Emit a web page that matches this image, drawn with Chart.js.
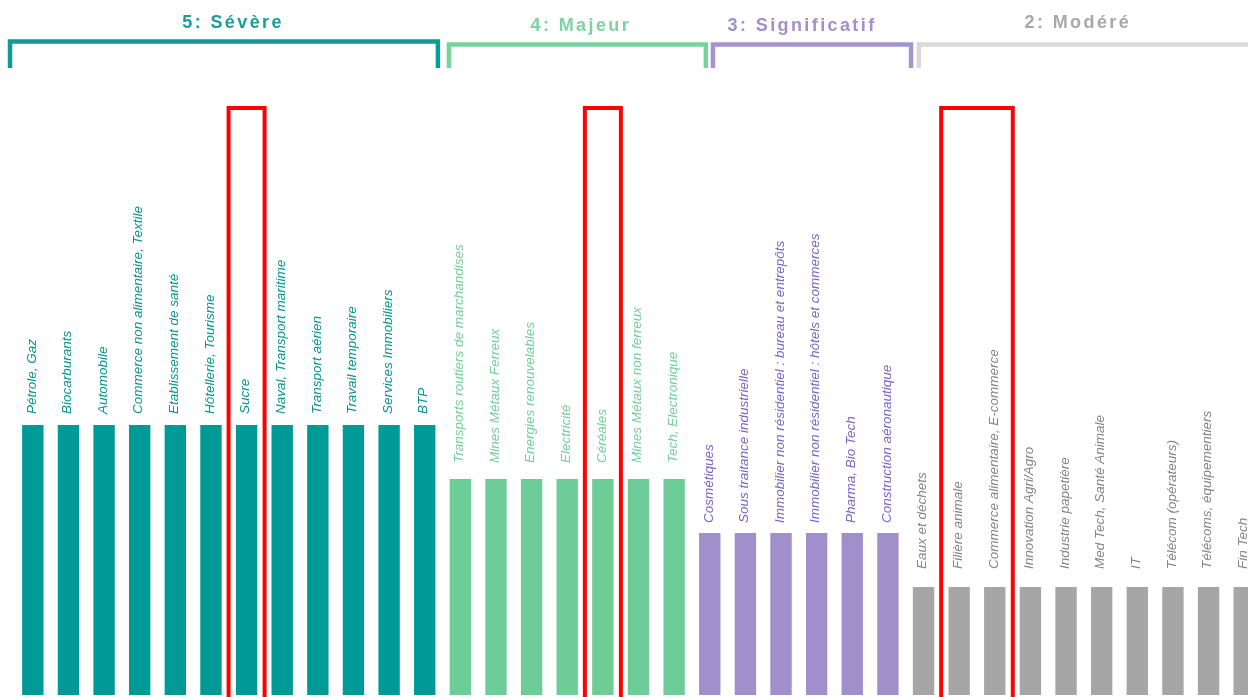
<!DOCTYPE html>
<html lang="fr">
<head>
<meta charset="utf-8">
<title>Secteurs par niveau de risque</title>
<script src="https://cdn.jsdelivr.net/npm/chart.js@4.4.1/dist/chart.umd.min.js"></script>
<style>
  html, body { margin: 0; padding: 0; background: #fff; overflow: hidden; }
  #wrap { width: 1262px; height: 697px; }
</style>
</head>
<body>
<div id="wrap"><canvas id="riskChart" width="1262" height="697"></canvas></div>
<script>
// ========== DATA ==========

const sectors = [
  'Pétrole, Gaz', 'Biocarburants', 'Automobile', 'Commerce non alimentaire, Textile',
  'Etablissement de santé', 'Hôtellerie, Tourisme', 'Sucre', 'Naval, Transport maritime',
  'Transport aérien', 'Travail temporaire', 'Services Immobiliers', 'BTP',
  'Transports routiers de marchandises', 'Mines Métaux Ferreux', 'Energies renouvelables',
  'Electricité', 'Céréales', 'Mines Métaux non ferreux', 'Tech, Electronique',
  'Cosmétiques', 'Sous traitance industrielle',
  'Immobilier non résidentiel : bureau et entrepôts',
  'Immobilier non résidentiel : hôtels et commerces',
  'Pharma, Bio Tech', 'Construction aéronautique',
  'Eaux et déchets', 'Filière animale', 'Commerce alimentaire, E-commerce',
  'Innovation Agri/Agro', 'Industrie papetière', 'Med Tech, Santé Animale', 'IT',
  'Télécom (opérateurs)', 'Télécoms, équipementiers', 'Fin Tech'
];

const severity = [
  5, 5, 5, 5, 5, 5, 5, 5, 5, 5, 5, 5,
  4, 4, 4, 4, 4, 4, 4,
  3, 3, 3, 3, 3, 3,
  2, 2, 2, 2, 2, 2, 2, 2, 2, 2
];

const levels = [5, 4, 3, 2];
const levelNames = ['5: Sévère', '4: Majeur', '3: Significatif', '2: Modéré'];

// sectors boxed in red
const highlighted = [
  ['Sucre'],
  ['Céréales'],
  ['Filière animale', 'Commerce alimentaire, E-commerce']
];

// ========== STYLE ==========

const barColors   = { 5: '#009A96', 4: '#6DCC98', 3: '#A08FCA', 2: '#A6A6A6' };
const labelColors = { 5: '#0A9591', 4: '#72CF9C', 3: '#7A66C6', 2: '#858585' };
const headColors  = { 5: '#1B9E9A', 4: '#7ED3A2', 3: '#A18FCE', 2: '#A8A8A8' };
const lineColors  = { 5: '#0E9C98', 4: '#74D39E', 3: '#A494D0', 2: '#D9D9D9' };
const labelGap    = { 5: 11, 4: 16, 3: 10, 2: 18 };

// bracket spans and header centre in category units (0 = left edge of first bar slot)
const brackets = {
  5: { from: -0.14, to: 11.87, head: 6.12, top: 41.5, textY: 23 },
  4: { from: 12.18, to: 19.39, head: 15.88, top: 44.5, textY: 26 },
  3: { from: 19.59, to: 25.15, head: 22.09, top: 44.5, textY: 26 },
  2: { from: 25.37, to: 36.00, head: 29.83, top: 44.5, textY: 23 }
};

// ========== PLUGINS ==========

const catPx = (scale, v) => {
  const step = scale.getPixelForValue(1) - scale.getPixelForValue(0);
  return scale.getPixelForValue(0) - step / 2 + v * step;
};

const sectorLabels = {
  id: 'sectorLabels',
  afterDatasetsDraw(chart) {
    const ctx = chart.ctx;
    const meta = chart.getDatasetMeta(0);
    ctx.save();
    ctx.font = 'italic 13.5px "Liberation Sans", Arial, sans-serif';
    ctx.textAlign = 'left';
    ctx.textBaseline = 'middle';
    meta.data.forEach((bar, i) => {
      const lvl = severity[i];
      ctx.save();
      ctx.translate(bar.x - 1, bar.y - labelGap[lvl]);
      ctx.rotate(-Math.PI / 2);
      ctx.fillStyle = labelColors[lvl];
      ctx.fillText(sectors[i], 0, 0);
      ctx.restore();
    });
    ctx.restore();
  }
};

const groupBrackets = {
  id: 'groupBrackets',
  afterDraw(chart) {
    const ctx = chart.ctx;
    const xs = chart.scales.x;
    ctx.save();
    levels.forEach((lvl, k) => {
      const b = brackets[lvl];
      const x0 = catPx(xs, b.from);
      const x1 = catPx(xs, b.to);
      ctx.strokeStyle = lineColors[lvl];
      ctx.lineWidth = 4.5;
      ctx.lineJoin = 'miter';
      ctx.beginPath();
      ctx.moveTo(x0, 68);
      ctx.lineTo(x0, b.top);
      ctx.lineTo(x1, b.top);
      ctx.lineTo(x1, 68);
      ctx.stroke();

      ctx.font = 'bold 18px "Liberation Sans", Arial, sans-serif';
      ctx.letterSpacing = '2.4px';
      ctx.fillStyle = headColors[lvl];
      ctx.textAlign = 'center';
      ctx.textBaseline = 'middle';
      ctx.fillText(levelNames[k], catPx(xs, b.head), b.textY);
    });
    ctx.restore();
  }
};

const redBoxes = {
  id: 'redBoxes',
  afterDraw(chart) {
    const ctx = chart.ctx;
    const xs = chart.scales.x;
    ctx.save();
    ctx.strokeStyle = '#FF0000';
    ctx.lineWidth = 4;
    highlighted.forEach(names => {
      const first = sectors.indexOf(names[0]);
      const last = sectors.indexOf(names[names.length - 1]);
      const left = xs.getPixelForValue(first) - 18;
      const right = xs.getPixelForValue(last) + 18;
      ctx.strokeRect(left, 108, right - left, 620);
    });
    ctx.restore();
  }
};

// ========== CHART ==========

new Chart(document.getElementById('riskChart'), {
  type: 'bar',
  data: {
    labels: sectors,
    datasets: [{
      data: severity,
      backgroundColor: severity.map(v => barColors[v]),
      borderWidth: 0,
      barPercentage: 0.6,
      categoryPercentage: 1
    }]
  },
  options: {
    responsive: false,
    animation: false,
    layout: { padding: { left: 15, right: 0, top: 47, bottom: 2 } },
    plugins: {
      legend: { display: false },
      tooltip: { enabled: false }
    },
    scales: {
      x: { display: false },
      y: { display: false, min: 0, max: 12 }
    }
  },
  plugins: [sectorLabels, groupBrackets, redBoxes]
});
</script>
</body>
</html>
